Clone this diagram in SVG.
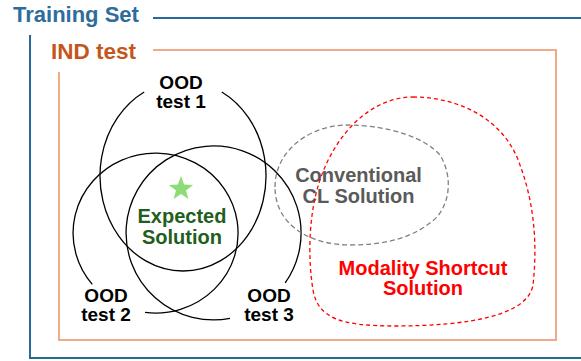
<svg xmlns="http://www.w3.org/2000/svg" width="581" height="361" viewBox="0 0 581 361">
  <style>
    text { font-family: "Liberation Sans", Arial, sans-serif; font-weight: bold; text-anchor: middle; }
    .title { text-anchor: start; }
    .lbl { font-size: 20px; }
    .ood { fill: #000000; font-size: 19px; }
    .arc { fill: none; stroke: #000000; stroke-width: 1.3; }
    .blue { fill: none; stroke: #2A6896; stroke-width: 2; }
    .orange { fill: none; stroke: #F2A985; stroke-width: 2; }
  </style>
  <rect width="581" height="361" fill="#ffffff"/>

  <g id="training-set">
    <path class="blue" d="M 153 18 L 581 18 M 30 35 L 30 358 L 581 358"/>
    <text class="title" x="13" y="22" fill="#2E6C9C" font-size="22">Training Set</text>
  </g>

  <g id="ind-test">
    <path class="orange" d="M 153 50 L 556 50 L 556 340 L 59 340 L 59 72"/>
    <text class="title" x="51" y="58.5" fill="#C4561C" font-size="22.5">IND test</text>
  </g>

  <g id="ood-test-1">
    <path class="arc" d="M 221.8 92 A 83 95 0 1 1 144.2 92"/>
    <text class="ood" x="181" y="89">OOD<tspan x="181" dy="19">test 1</tspan></text>
  </g>

  <g id="ood-test-2">
    <path class="arc" d="M 145 312.4 A 82.5 80 0 1 0 92.3 284.4"/>
    <text class="ood" x="106" y="302">OOD<tspan x="106" dy="19">test 2</tspan></text>
  </g>

  <g id="ood-test-3">
    <path class="arc" d="M 230 318.4 A 87.5 87 0 1 1 285.2 282.9"/>
    <text class="ood" x="269" y="302">OOD<tspan x="269" dy="19">test 3</tspan></text>
  </g>

  <g id="expected-solution">
    <polygon fill="#8EDC78" points="181,176 184.1,184.6 193.1,184.9 186,190.4 188.5,199.1 181,194 173.5,199.1 176,190.4 168.9,184.9 177.9,184.6"/>
    <text class="lbl" x="182" y="223" fill="#1F5E20">Expected<tspan x="182" dy="21">Solution</tspan></text>
  </g>

  <g id="conventional-cl-solution">
    <path fill="none" stroke="#808080" stroke-width="1.3" stroke-dasharray="5 3" d="M 275 187 C 275 150, 310 126, 345 125 C 390 125, 425 138, 440 155 C 452 175, 451 200, 437 217 C 415 238, 385 245, 350 245 C 310 245, 275 225, 275 187 Z"/>
    <text class="lbl" x="358.5" y="182" fill="#5A5A5A">Conventional<tspan x="358.5" dy="21">CL Solution</tspan></text>
  </g>

  <g id="modality-shortcut-solution">
    <path fill="none" stroke="#FF0000" stroke-width="1.3" stroke-dasharray="4 3" d="M 413 97 C 460 97, 505 120, 520 165 C 533 200, 538 240, 533 285 C 528 315, 470 326, 395 326 C 340 326, 318 318, 313 290 C 308 260, 308 215, 320 180 C 335 135, 370 97, 413 97 Z"/>
    <text class="lbl" x="423" y="275" fill="#FF0000">Modality Shortcut<tspan x="423" dy="20">Solution</tspan></text>
  </g>

  <g id="connectors"></g>
</svg>
